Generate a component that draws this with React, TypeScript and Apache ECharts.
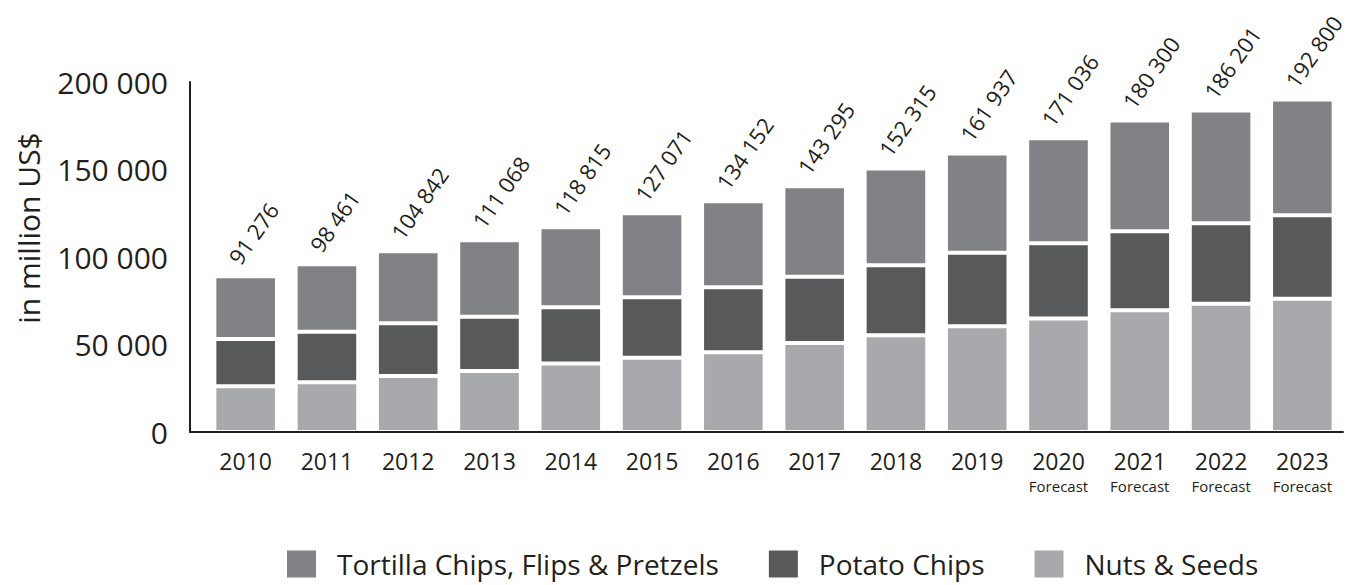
import React, { useEffect, useRef } from "react";
import * as echarts from "echarts";

const categories = ["2010", "2011", "2012", "2013", "2014", "2015", "2016", "2017", "2018", "2019", "2020", "2021", "2022", "2023"];
const forecastNotes = ["", "", "", "", "", "", "", "", "", "", "Forecast", "Forecast", "Forecast", "Forecast"];
const totals = [91276, 98461, 104842, 111068, 118815, 127071, 134152, 143295, 152315, 161937, 171036, 180300, 186201, 192800];
const nutsSeeds = [26200, 28500, 32000, 34800, 39100, 42500, 45600, 50800, 55300, 60500, 64800, 69600, 73300, 76200];
const potatoChips = [26900, 28800, 30200, 31100, 32200, 34500, 37100, 37900, 40000, 41900, 43000, 45100, 46000, 47600];
const tortillaChips = [35900, 38600, 41100, 43700, 45700, 48000, 49100, 51700, 55300, 56800, 60000, 63300, 64400, 66200];
const yTicks = { min: 0, max: 200000, interval: 50000 };
const seriesNames = ["Tortilla Chips, Flips & Pretzels", "Potato Chips", "Nuts & Seeds"];
const colors = { tortilla: "#818285", potato: "#58595b", nuts: "#a7a9ac" };
const textColor = "#231f20";
const FONT = "'Open Sans', sans-serif";

const fmt = (v: number) => String(v).replace(/\B(?=(\d{3})+(?!\d))/g, " ");

export default function App() {
  const ref = useRef<HTMLDivElement>(null);
  useEffect(() => {
    if (!ref.current) return;
    const chart = echarts.init(ref.current, null, { renderer: "svg" });
    const barStyle = (color: string) => ({ color, borderColor: "#ffffff", borderWidth: 2 });
    chart.setOption({
      animation: false,
      textStyle: { fontFamily: FONT, color: textColor },
      grid: { left: 205, right: 6, top: 82, bottom: 153 },
      legend: {
        data: seriesNames,
        left: 287,
        top: 550,
        padding: 0,
        icon: "rect",
        itemWidth: 29,
        itemHeight: 27,
        itemGap: 50,
        itemStyle: { borderWidth: 0 },
        textStyle: { fontSize: 28, lineHeight: 26, color: textColor, fontFamily: FONT, padding: [0, 0, 0, 16] },
      },
      xAxis: {
        type: "category",
        data: categories,
        z: 10,
        axisLine: { show: true, lineStyle: { color: textColor, width: 2 } },
        axisTick: { show: false },
        axisLabel: {
          interval: 0,
          margin: 15,
          verticalAlign: "top",
          formatter: (v: string, i: number) =>
            forecastNotes[i] ? `{y|${v}}\n{f|${forecastNotes[i]}}` : `{y|${v}}`,
          rich: {
            y: { fontSize: 23, lineHeight: 28, color: textColor, fontFamily: FONT },
            f: { fontSize: 15, lineHeight: 22, color: textColor, fontFamily: FONT },
          },
        },
      },
      yAxis: {
        type: "value",
        min: yTicks.min,
        max: yTicks.max,
        interval: yTicks.interval,
        offset: 15,
        axisLine: { show: true, lineStyle: { color: textColor, width: 2 } },
        axisTick: { show: false },
        splitLine: { show: false },
        axisLabel: { fontSize: 30, color: textColor, margin: 22, formatter: (v: number) => fmt(v) },
      },
      graphic: [
        {
          type: "line",
          shape: { x1: 189, y1: 432, x2: 206, y2: 432 },
          style: { stroke: textColor, lineWidth: 2 },
          z: 10,
        },
        {
          type: "text",
          x: 28,
          y: 228,
          rotation: Math.PI / 2,
          style: {
            text: "in million US$",
            fontSize: 30,
            fontFamily: FONT,
            fill: textColor,
            align: "center",
            verticalAlign: "middle",
          },
        },
      ],
      series: [
        {
          name: seriesNames[2],
          type: "bar",
          stack: "total",
          barWidth: "77%",
          data: nutsSeeds,
          itemStyle: barStyle(colors.nuts),
        },
        {
          name: seriesNames[1],
          type: "bar",
          stack: "total",
          data: potatoChips,
          itemStyle: barStyle(colors.potato),
        },
        {
          name: seriesNames[0],
          type: "bar",
          stack: "total",
          data: tortillaChips,
          itemStyle: barStyle(colors.tortilla),
          label: {
            show: true,
            position: [19, -15],
            rotate: 55,
            align: "left",
            verticalAlign: "middle",
            fontSize: 22,
            fontFamily: FONT,
            color: textColor,
            formatter: (p: any) => fmt(totals[p.dataIndex]),
          },
        },
      ],
    });
    return () => chart.dispose();
  }, []);
  return <div ref={ref} style={{ position: "absolute", left: 0, top: 0, width: 1349, height: 585 }} />;
}
